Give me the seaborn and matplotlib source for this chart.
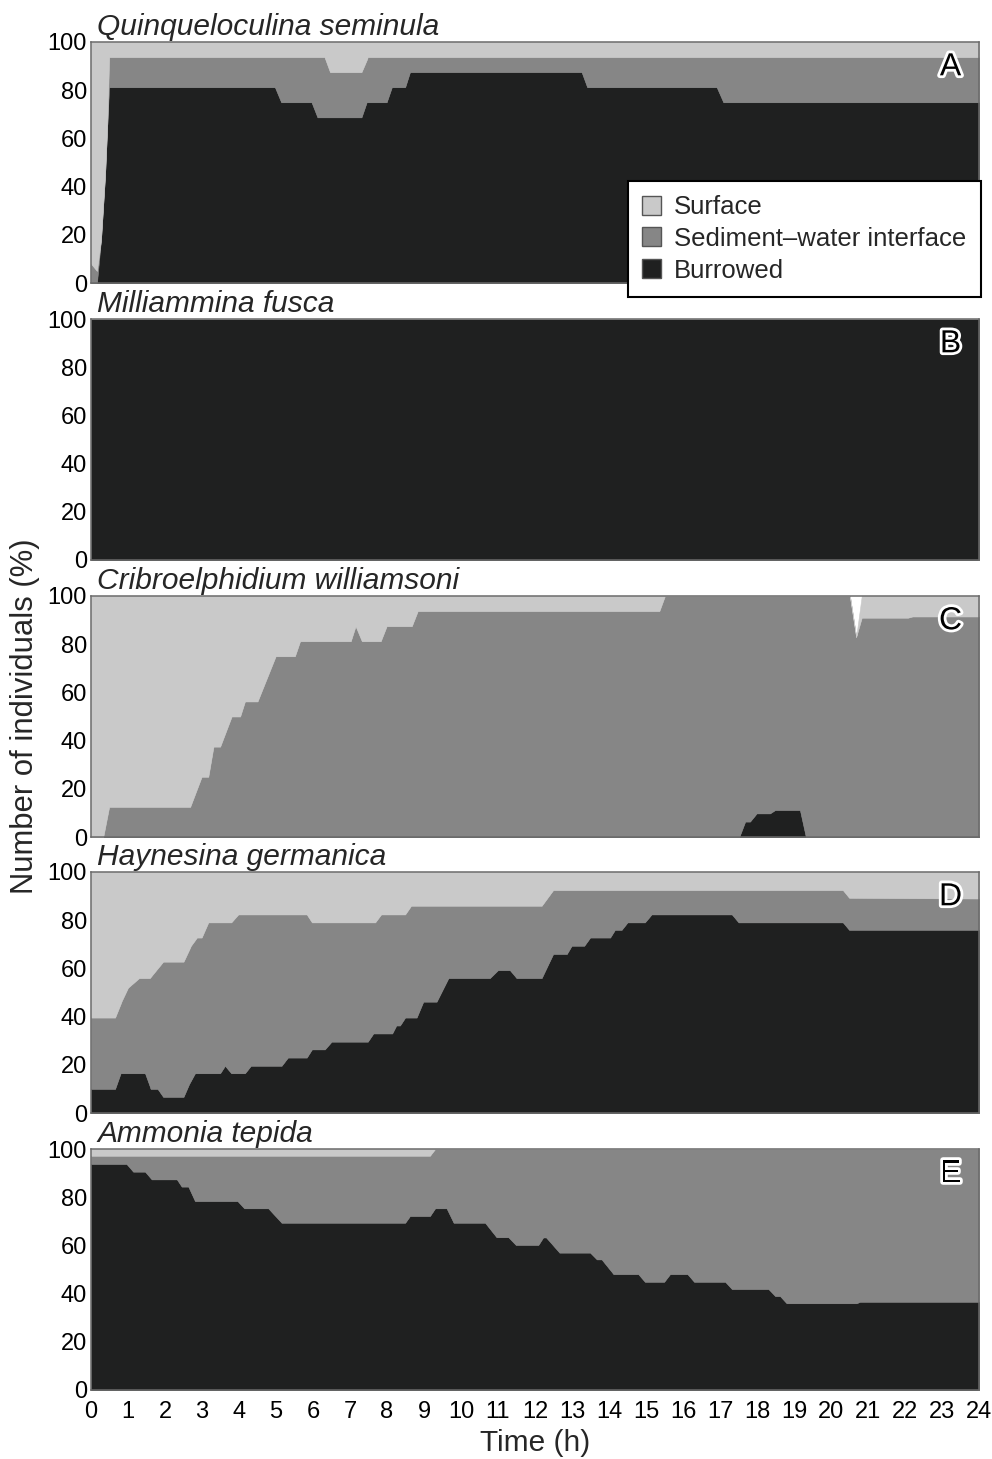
import matplotlib
matplotlib.use("Agg")
import matplotlib.pyplot as plt
import matplotlib.patheffects as pe
from matplotlib.patches import Patch
import seaborn as sns

# categories (stack order bottom -> top) and panel info
categories = ["Burrowed", "Sediment\u2013water interface", "Surface"]
species = ["Quinqueloculina seminula", "Milliammina fusca",
           "Cribroelphidium williamsoni", "Haynesina germanica", "Ammonia tepida"]
panel_letters = ["A", "B", "C", "D", "E"]
hour_ticks = list(range(0, 25))
pct_ticks = [0, 20, 40, 60, 80, 100]

# A - Quinqueloculina seminula (% of individuals)
a_time = [0, 0.16, 0.27, 0.38, 0.44, 0.49, 4.97, 5.14, 5.96, 6.12, 6.31, 6.46, 7.31, 7.45,
          7.48, 7.99, 8.13, 8.49, 8.62, 13.26, 13.41, 16.91, 17.09, 24]
a_burrowed = [0, 0, 18, 45, 66, 81.25, 81.25, 75, 75, 68.75, 68.75, 68.75, 68.75, 75,
              75, 75, 81.25, 81.25, 87.5, 87.5, 81.25, 81.25, 75, 75]
a_swi = [8, 5, 0, 0, 0, 12.5, 12.5, 18.75, 18.75, 25, 25, 18.75, 18.75, 17.5,
         18.75, 18.75, 12.5, 12.5, 6.25, 6.25, 12.5, 12.5, 18.75, 18.75]
a_surface = [92, 95, 82, 55, 34, 6.25, 6.25, 6.25, 6.25, 6.25, 6.25, 12.5, 12.5, 7.5,
             6.25, 6.25, 6.25, 6.25, 6.25, 6.25, 6.25, 6.25, 6.25, 6.25]

# B - Milliammina fusca
b_time = [0, 24]
b_burrowed = [100, 100]
b_swi = [0, 0]
b_surface = [0, 0]

# C - Cribroelphidium williamsoni
c_time = [0, 0.33, 0.49, 2.68, 2.99, 3.17, 3.31, 3.49, 3.80, 4.03, 4.16, 4.50, 4.99, 5.51,
          5.65, 7.02, 7.15, 7.32, 7.83, 7.99, 8.67, 8.83, 15.36, 15.51, 17.52, 17.68, 17.81,
          17.99, 18.35, 18.49, 19.16, 19.32, 20.51, 20.68, 20.83, 22.08, 22.2, 24]
c_burrowed = [0] * 24 + [0, 6.4, 6.4, 9.8, 9.8, 11.2, 11.2, 0, 0, 0, 0, 0, 0, 0]
c_swi = [0, 0, 12.5, 12.5, 25, 25, 37.5, 37.5, 50, 50, 56.25, 56.25, 75, 75,
         81.25, 81.25, 87.5, 81.25, 81.25, 87.5, 87.5, 93.75, 93.75, 100, 100, 93.6, 93.6,
         90.2, 90.2, 88.8, 88.8, 100, 100, 83, 91, 91, 91.5, 91.5]
c_surface = [100, 100, 87.5, 87.5, 75, 75, 62.5, 62.5, 50, 50, 43.75, 43.75, 25, 25,
             18.75, 18.75, 12.5, 18.75, 18.75, 12.5, 12.5, 6.25, 6.25, 0, 0, 0, 0,
             0, 0, 0, 0, 0, 0, 0, 9, 9, 8.5, 8.5]

# D - Haynesina germanica
d_time = [0, 0.65, 0.80, 0.83, 1.0, 1.3, 1.46, 1.59, 1.61, 1.80,
          1.95, 2.5, 2.65, 2.70, 2.81, 2.86, 2.99, 3.17, 3.49, 3.62,
          3.79, 3.98, 4.16, 4.32, 5.15, 5.32, 5.83, 5.97, 6.32, 6.50,
          7.48, 7.63, 7.68, 7.84, 8.14, 8.25, 8.35, 8.49, 8.65, 8.80,
          8.98, 9.34, 9.66, 10.78, 11.0, 11.32, 11.5, 12.18, 12.49, 12.86,
          12.99, 13.33, 13.49, 14.03, 14.16, 14.34, 14.50, 14.97, 15.15, 17.32,
          17.5, 20.32, 20.49, 24]
d_burrowed = [10, 10, 16.5, 16.5, 16.5, 16.5, 16.5, 11, 10, 10,
              6.7, 6.7, 12, 13.4, 16.5, 16.5, 16.5, 16.5, 16.5, 19.6,
              16.5, 16.5, 16.5, 19.6, 19.6, 23, 23, 26.4, 26.4, 29.6,
              29.6, 33, 33, 33, 33, 36.3, 36.3, 39.6, 39.6, 39.6,
              46.2, 46.2, 56, 56, 59.3, 59.3, 56, 56, 66, 66,
              69.4, 69.4, 72.8, 72.8, 76, 76, 79.1, 79.1, 82.4, 82.4,
              79.1, 79.1, 76, 76]
d_swi = [29.6, 29.6, 28.8, 30.0, 35.5, 39.5, 39.5, 45, 46.4, 50,
         56.1, 56.1, 55.7, 56, 55.2, 56.3, 56.3, 62.6, 62.6, 59.5,
         62.6, 65.9, 65.9, 62.8, 62.8, 59.4, 59.4, 52.7, 52.7, 49.5,
         49.5, 46.1, 46.1, 49.4, 49.4, 46.1, 46.1, 42.8, 46.4, 46.4,
         39.8, 39.8, 30, 30, 26.7, 26.7, 30, 30, 26.5, 26.5,
         23.1, 23.1, 19.7, 19.7, 16.5, 16.5, 13.4, 13.4, 10.1, 10.1,
         13.4, 13.4, 13.3, 13]
d_surface = [60.4, 60.4, 54.7, 53.5, 48, 44, 44, 44, 43.6, 40,
             37.2, 37.2, 32.3, 30.6, 28.3, 27.2, 27.2, 20.9, 20.9, 20.9,
             20.9, 17.6, 17.6, 17.6, 17.6, 17.6, 17.6, 20.9, 20.9, 20.9,
             20.9, 20.9, 20.9, 17.6, 17.6, 17.6, 17.6, 17.6, 14, 14,
             14, 14, 14, 14, 14, 14, 14, 14, 7.5, 7.5,
             7.5, 7.5, 7.5, 7.5, 7.5, 7.5, 7.5, 7.5, 7.5, 7.5,
             7.5, 7.5, 10.7, 11]

# E - Ammonia tepida
e_time = [0, 0.96, 1.14, 1.46, 1.64, 2.32, 2.45, 2.63, 2.81, 3.96,
          4.14, 4.79, 5.15, 8.49, 8.62, 9.16, 9.3, 9.61, 9.80, 10.65,
          10.96, 11.28, 11.48, 12.09, 12.22, 12.3, 12.66, 13.49, 13.67, 13.8,
          14.12, 14.79, 14.97, 15.49, 15.65, 16.12, 16.30, 17.14, 17.32, 18.31,
          18.49, 18.62, 18.8, 20.69, 20.78, 24]
e_burrowed = [93.8, 93.8, 90.6, 90.6, 87.4, 87.4, 84.4, 84.4, 78.4, 78.4,
              75.4, 75.4, 69.4, 69.4, 72.2, 72.2, 75.4, 75.4, 69.4, 69.4,
              63.4, 63.4, 60.2, 60.2, 63.3, 63.3, 57, 57, 54.2, 54.2,
              48.1, 48.1, 44.9, 44.9, 48.1, 48.1, 44.9, 44.9, 41.9, 41.9,
              39, 39, 36, 36, 36.6, 36.6]
e_swi = [3.4, 3.4, 6.6, 6.6, 9.8, 9.8, 12.8, 12.8, 18.8, 18.8,
         21.8, 21.8, 27.8, 27.8, 25, 25, 24.6, 24.6, 30.6, 30.6,
         36.6, 36.6, 39.8, 39.8, 36.7, 36.7, 43, 43, 45.8, 45.8,
         51.9, 51.9, 55.1, 55.1, 51.9, 51.9, 55.1, 55.1, 58.1, 58.1,
         61, 61, 64, 64, 63.4, 63.4]
e_surface = [2.8] * 16 + [0] * 30

panels = [
    (a_time, a_burrowed, a_swi, a_surface),
    (b_time, b_burrowed, b_swi, b_surface),
    (c_time, c_burrowed, c_swi, c_surface),
    (d_time, d_burrowed, d_swi, d_surface),
    (e_time, e_burrowed, e_swi, e_surface),
]

colors = ["#1f2020", "#868686", "#c9c9c9"]

sns.set_theme(style="white")
plt.rcParams["font.family"] = ["Liberation Sans", "DejaVu Sans"]

W, H = 992, 1459
fig = plt.figure(figsize=(W / 100, H / 100), dpi=100)
fig.patch.set_facecolor("white")

left_px, right_px = 91, 979
tops_px = [42, 319, 596, 872, 1149]
height_px = 241

axes = []
for i, (t, bur, swi, surf) in enumerate(panels):
    top = tops_px[i]
    ax = fig.add_axes([left_px / W, 1 - (top + height_px) / H,
                       (right_px - left_px) / W, height_px / H])
    ax.stackplot(t, bur, swi, surf, colors=colors, linewidth=0.4,
                 edgecolor="face", antialiased=True)
    ax.set_xlim(0, 24)
    ax.set_ylim(0, 100)
    ax.set_yticks(pct_ticks)
    ax.set_xticks(hour_ticks)
    ax.tick_params(axis="both", length=0, labelsize=17, pad=3, colors="black")
    ax.tick_params(axis="x", pad=8)
    if i < 4:
        ax.set_xticklabels([])
    for s in ax.spines.values():
        s.set_color("#6a6a6a")
        s.set_linewidth(1.1)
    ax.text(0.007, 1.03, species[i], transform=ax.transAxes, fontsize=21.5,
            style="italic", ha="left", va="baseline")
    ax.text(0.968, 0.895, panel_letters[i], transform=ax.transAxes, fontsize=23,
            ha="center", va="center", color="black",
            path_effects=[pe.withStroke(linewidth=4, foreground="white")])
    axes.append(ax)

fig.text(25 / W, 1 - 716 / H, "Number of individuals (%)", rotation=90,
         ha="center", va="center", fontsize=22.3)
fig.text(535 / W, 1 - 1443 / H, "Time (h)", ha="center", va="center", fontsize=21.5)

handles = [Patch(facecolor=colors[2], edgecolor="#555555", label="Surface"),
           Patch(facecolor=colors[1], edgecolor="#555555", label=categories[1]),
           Patch(facecolor=colors[0], edgecolor="#555555", label="Burrowed")]
leg = fig.legend(handles=handles, loc="upper left",
                 bbox_to_anchor=(628 / W, 1 - 181 / H), fontsize=18.5,
                 frameon=True, fancybox=False, framealpha=1, edgecolor="black",
                 handlelength=0.75, handleheight=0.75, handletextpad=0.5,
                 labelspacing=0.3, borderpad=0.55, borderaxespad=0)
leg.get_frame().set_linewidth(1.5)
leg.set_zorder(10)

fig.savefig("out.png", dpi=100, facecolor="white")
